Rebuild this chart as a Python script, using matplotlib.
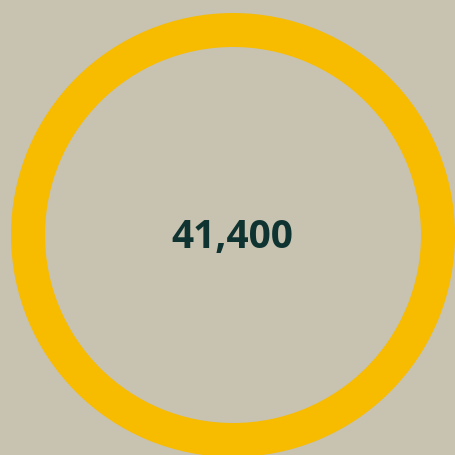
import matplotlib
matplotlib.use("Agg")
import matplotlib.pyplot as plt

# data
values = [41400]
label_text = "41,400"
ring_color = "#f7bb00"
bg_color = "#c8c2b0"
text_color = "#0e3330"

W, H = 456, 455
fig = plt.figure(figsize=(W / 100, H / 100), dpi=100)
fig.patch.set_facecolor(bg_color)
ax = fig.add_axes([0, 0, 1, 1])
ax.set_facecolor(bg_color)

# ring drawn in pixel coordinates (y pointing down)
ax.pie(values, colors=[ring_color], center=(233, 235), radius=222,
       startangle=90, counterclock=False,
       wedgeprops=dict(width=34, linewidth=0))
ax.set_xlim(0, W)
ax.set_ylim(H, 0)
ax.set_aspect("equal")
ax.axis("off")

ax.text(232, 248, label_text, ha="center", va="baseline",
        fontsize=28, fontweight="bold", family="Open Sans", color=text_color)

fig.savefig("out.png", dpi=100, facecolor=bg_color)
